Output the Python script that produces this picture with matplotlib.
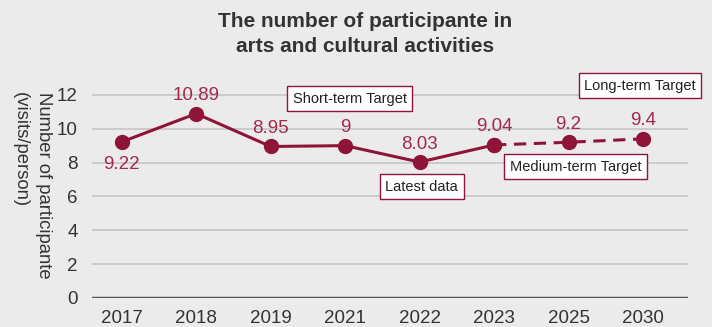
import matplotlib
matplotlib.use("Agg")
import matplotlib.pyplot as plt

plt.rcParams['font.family'] = ['Liberation Sans', 'DejaVu Sans']

# data
years = ['2017', '2018', '2019', '2021', '2022', '2023', '2025', '2030']
values = [9.22, 10.89, 8.95, 9.0, 8.03, 9.04, 9.2, 9.4]
labels = ['9.22', '10.89', '8.95', '9', '8.03', '9.04', '9.2', '9.4']
n_actual = 6  # 2017..2023 solid, then targets dashed

notes = ['Short-term Target', 'Latest data', 'Medium-term Target', 'Long-term Target']
note_xy = [(3.06, 11.78), (4.03, 6.57), (6.09, 7.75), (6.96, 12.54)]

bg = '#ebebeb'
red = '#8e1538'
lab_red = '#a3284c'

fig = plt.figure(figsize=(7.12, 3.27), dpi=100, facecolor=bg)
ax = fig.add_axes([0.129, 0.0887, 0.837, 0.673], facecolor=bg)

x = list(range(len(years)))
ax.plot(x[:n_actual], values[:n_actual], color=red, lw=2.2, marker='o', ms=10, zorder=3)
ax.plot(x[n_actual - 1:], values[n_actual - 1:], color=red, lw=2.2, ls=(0, (4, 2.5)),
        marker='o', ms=10, zorder=3)

for i, (v, t) in enumerate(zip(values, labels)):
    off = -16 if i == 0 else 13
    ax.annotate(t, (i, v), xytext=(0, off), textcoords='offset points',
                ha='center', va='center', color=lab_red, fontsize=13.5)

for t, (nx, ny) in zip(notes, note_xy):
    ax.text(nx, ny, t, ha='center', va='center', fontsize=10.5, color='#222222',
            bbox=dict(boxstyle='square,pad=0.38', fc='white', ec=red, lw=1), zorder=5)

ax.set_xlim(-0.4, 7.6)
ax.set_ylim(0, 13)
ax.set_yticks(range(0, 13, 2))
ax.set_xticks(x)
ax.set_xticklabels(years)
ax.tick_params(length=0, labelsize=13.5, colors='#333333')
ax.tick_params(axis='x', pad=9)
ax.tick_params(axis='y', pad=10)
for yv in range(2, 13, 2):
    ax.axhline(yv, color='#c8c8c8', lw=1.3, zorder=1)
ax.axhline(0, color='#555555', lw=2.5, zorder=2)
for s in ax.spines.values():
    s.set_visible(False)

ax.set_ylabel('Number of participante\n(visits/person)', rotation=-90, fontsize=13.3,
              color='#333333', multialignment='left', va='center', ha='center',
              linespacing=1.45)
ax.yaxis.set_label_coords(-0.1, 0.51)

fig.text(0.513, 0.895, 'The number of participante in\narts and cultural activities',
         ha='center', va='center', fontsize=15, fontweight='bold', color='#333333',
         linespacing=1.4)

fig.savefig('out.png', dpi=100, facecolor=bg)
